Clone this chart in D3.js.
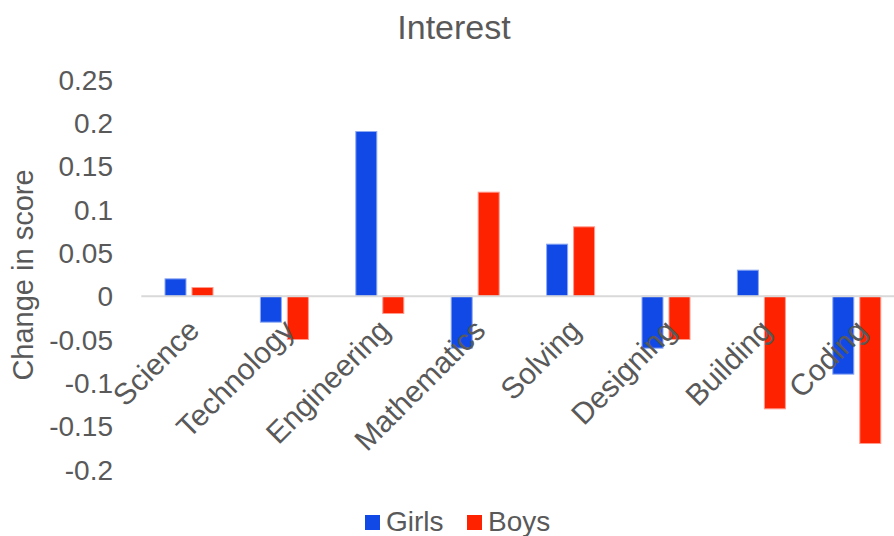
<!DOCTYPE html>
<html>
<head>
<meta charset="utf-8">
<script src="https://cdn.jsdelivr.net/npm/d3@7"></script>
<style>
  html, body { margin: 0; padding: 0; background: #ffffff; }
  svg { display: block; font-family: "Liberation Sans", Arial, sans-serif; }
</style>
</head>
<body>
<svg id="chart" width="894" height="536"></svg>
<script>
// Change in interest score by topic
const categories = ["Science", "Technology", "Engineering", "Mathematics", "Solving", "Designing", "Building", "Coding"];
const seriesNames = ["Girls", "Boys"];
const girls = [0.02, -0.03, 0.19, -0.06, 0.06, -0.06, 0.03, -0.09];
const boys  = [0.01, -0.05, -0.02, 0.12, 0.08, -0.05, -0.13, -0.17];
const yTicks = [0.25, 0.2, 0.15, 0.1, 0.05, 0, -0.05, -0.1, -0.15, -0.2];

const colors = { Girls: "#1149E6", Boys: "#FF2200" };
const edges  = { Girls: "#8EA8F2", Boys: "#FF9A8C" };
const textColor = "#595959";

const svg = d3.select("#chart");
const W = 894, H = 536;

// plot area
const plotLeft = 141.3, step = 95.4;
const plotRight = plotLeft + step * categories.length;
const plotTop = 79.5, plotBottom = 469.5;

const x0 = d3.scaleBand().domain(categories).range([plotLeft, plotRight]).padding(0);
const x1 = d3.scaleBand().domain(seriesNames)
  .range([x0.bandwidth() / 2 - 24, x0.bandwidth() / 2 + 24])
  .paddingInner(0.222).paddingOuter(0);
const y = d3.scaleLinear().domain([-0.2, 0.25]).range([plotBottom, plotTop]);

// title
svg.append("text")
  .attr("x", 454).attr("y", 39)
  .attr("text-anchor", "middle")
  .attr("font-size", 34)
  .attr("fill", textColor)
  .text("Interest");

// y axis labels (no line, no ticks)
const yAxis = d3.axisLeft(y).tickValues(yTicks).tickSize(0).tickPadding(0)
  .tickFormat(d => d === 0 ? "0" : String(+d.toFixed(2)));
const gy = svg.append("g").attr("transform", `translate(113,0)`).call(yAxis);
gy.select(".domain").remove();
gy.selectAll("text")
  .attr("font-size", 28)
  .attr("font-family", "'Liberation Sans', Arial, sans-serif")
  .attr("fill", textColor)
  .attr("dy", "0.35em");

// y axis title
svg.append("text")
  .attr("transform", `translate(33,${(170 + 380) / 2}) rotate(-90)`)
  .attr("text-anchor", "middle")
  .attr("font-size", 29)
  .attr("fill", textColor)
  .text("Change in score");

// bars
const rows = categories.map((c, i) => ({ c, Girls: girls[i], Boys: boys[i] }));
const groups = svg.append("g").selectAll("g").data(rows).join("g")
  .attr("transform", d => `translate(${x0(d.c)},0)`);
groups.selectAll("rect")
  .data(d => seriesNames.map(s => ({ s, v: d[s] })))
  .join("rect")
  .attr("x", d => x1(d.s))
  .attr("width", x1.bandwidth())
  .attr("y", d => y(Math.max(0, d.v)))
  .attr("height", d => Math.abs(y(d.v) - y(0)))
  .attr("fill", d => colors[d.s])
  .attr("stroke", d => edges[d.s])
  .attr("stroke-width", 1);

// zero line
svg.append("line")
  .attr("x1", plotLeft).attr("x2", W)
  .attr("y1", y(0)).attr("y2", y(0))
  .attr("stroke", "#D9D9D9")
  .attr("stroke-width", 2);

// category labels, rotated next to the zero axis
const xAxis = d3.axisBottom(x0).tickSize(0).tickPadding(0);
const gx = svg.append("g").attr("transform", `translate(0,${y(0)})`).call(xAxis);
gx.select(".domain").remove();
gx.selectAll("text")
  .attr("font-size", 30)
  .attr("font-family", "'Liberation Sans', Arial, sans-serif")
  .attr("fill", textColor)
  .attr("text-anchor", "end")
  .attr("dy", null)
  .attr("y", null)
  .attr("transform", "translate(12,36) rotate(-45)");

// legend
const legend = svg.append("g");
const legendItems = [
  { s: "Girls", x: 365 },
  { s: "Boys", x: 467 }
];
legendItems.forEach(it => {
  legend.append("rect")
    .attr("x", it.x).attr("y", 515)
    .attr("width", 15).attr("height", 15)
    .attr("fill", colors[it.s]);
  legend.append("text")
    .attr("x", it.x + 21).attr("y", 531)
    .attr("font-size", 28)
    .attr("fill", textColor)
    .text(it.s);
});
</script>
</body>
</html>
